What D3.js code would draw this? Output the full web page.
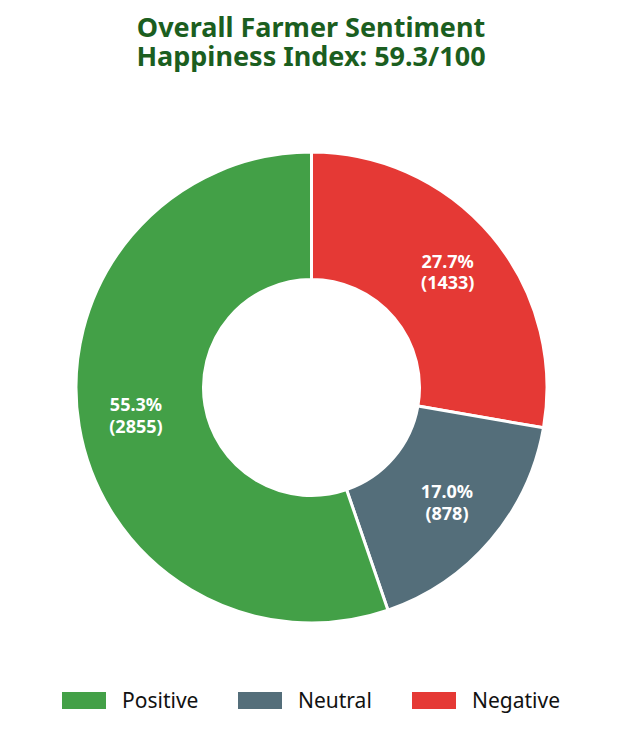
<!DOCTYPE html>
<html>
<head>
<meta charset="utf-8">
<script src="https://cdn.jsdelivr.net/npm/d3@7"></script>
<style>
  body { margin: 0; background: #fff; }
  svg { font-family: "Noto Sans", sans-serif; display: block; }
</style>
</head>
<body>
<svg id="chart"></svg>
<script>
// sentiment counts, in drawing order (clockwise from 12 o'clock)
const categories = ["Negative", "Neutral", "Positive"];
const counts = [1433, 878, 2855];
const colors = ["#e53935", "#546e7a", "#43a047"];
const legendOrder = ["Positive", "Neutral", "Negative"];
const titleLines = ["Overall Farmer Sentiment", "Happiness Index: 59.3/100"];

const width = 622, height = 736;
const cx = 311.5, cy = 387.5;
const outerR = 235.5, innerR = 108, labelR = 178;

const svg = d3.select("#chart")
  .attr("width", width)
  .attr("height", height);

// title, one text per line
svg.selectAll(".chart-title")
  .data(titleLines)
  .join("text")
    .attr("class", "chart-title")
    .attr("x", width / 2)
    .attr("y", (d, i) => 36.5 + i * 29)
    .attr("text-anchor", "middle")
    .style("font-size", "27px")
    .style("font-weight", "bold")
    .style("fill", "#1b5e20")
    .text(d => d);

const data = categories.map((c, i) => ({ key: c, value: counts[i] }));
const total = d3.sum(counts);

const color = d3.scaleOrdinal().domain(categories).range(colors);

const pie = d3.pie().sort(null).value(d => d.value);
const arc = d3.arc().innerRadius(innerR).outerRadius(outerR);
const labelArc = d3.arc().innerRadius(labelR).outerRadius(labelR);

const g = svg.append("g").attr("transform", `translate(${cx},${cy})`);

g.selectAll("path")
  .data(pie(data))
  .join("path")
    .attr("d", arc)
    .attr("fill", d => color(d.data.key))
    .attr("stroke", "#fff")
    .attr("stroke-width", 3);

// percentage + count labels
const labels = g.selectAll(".slice-label")
  .data(pie(data))
  .join("text")
    .attr("class", "slice-label")
    .attr("transform", d => `translate(${labelArc.centroid(d)})`)
    .attr("text-anchor", "middle")
    .style("fill", "#fff")
    .style("font-size", "18px")
    .style("font-weight", "bold");

labels.append("tspan")
  .attr("x", 0)
  .attr("dy", "-0.3em")
  .text(d => (d.data.value / total * 100).toFixed(1) + "%");
labels.append("tspan")
  .attr("x", 0)
  .attr("dy", "1.22em")
  .text(d => `(${d.data.value})`);

// legend
const legendX = [62, 238, 412];
const legend = svg.append("g").attr("class", "legend");
const items = legend.selectAll("g")
  .data(legendOrder)
  .join("g")
    .attr("transform", (d, i) => `translate(${legendX[i]},692)`);

items.append("rect")
  .attr("width", 44)
  .attr("height", 17)
  .attr("fill", d => color(d));

items.append("text")
  .attr("x", 60)
  .attr("y", 16)
  .style("font-size", "21px")
  .style("fill", "#111")
  .text(d => d);
</script>
</body>
</html>
